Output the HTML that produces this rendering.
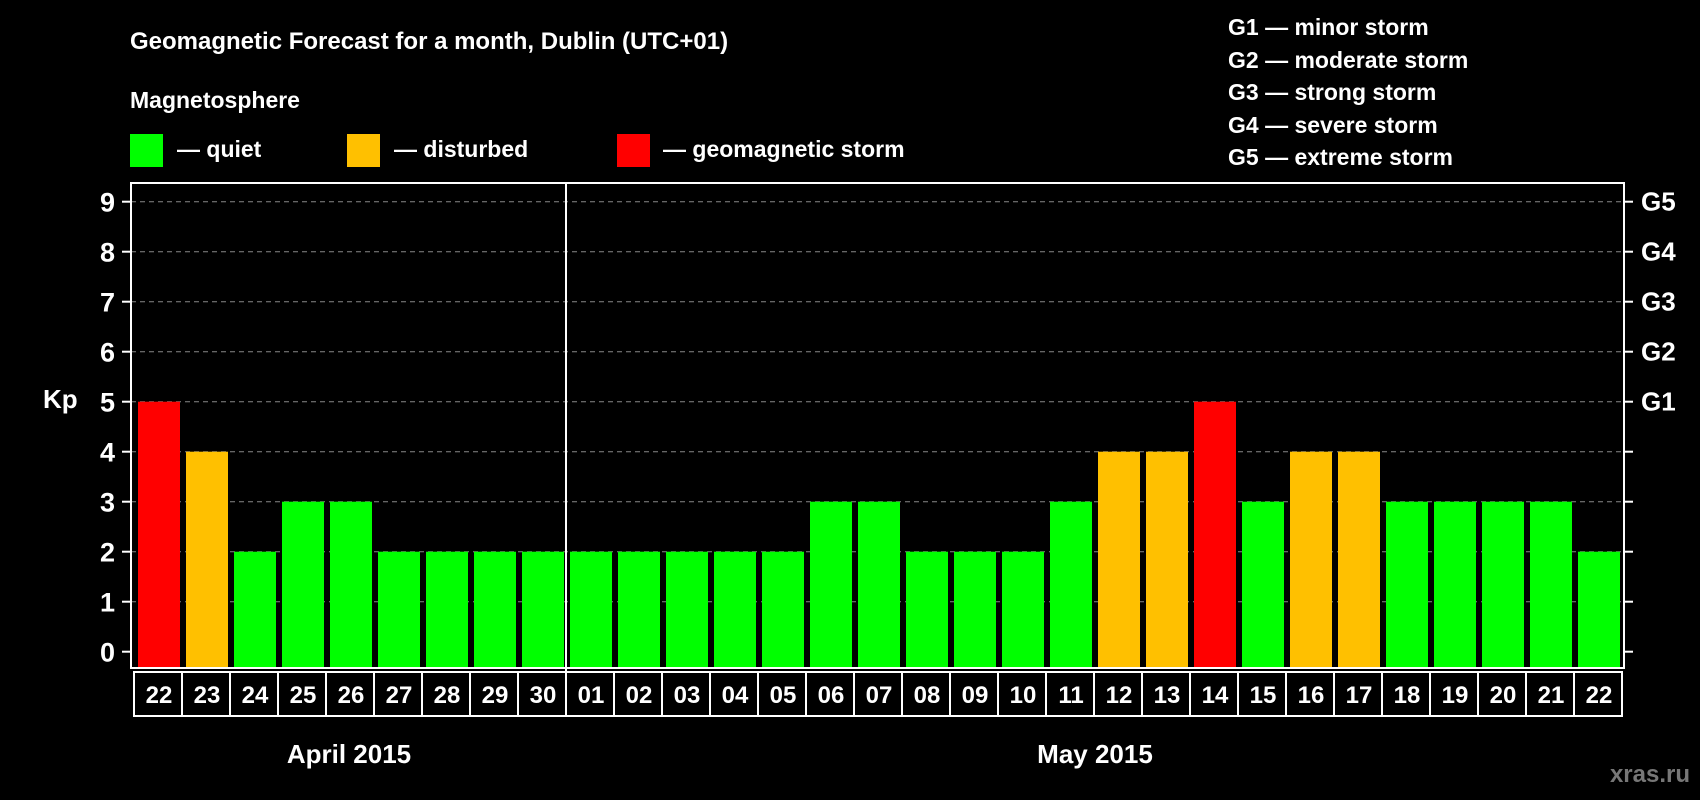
<!DOCTYPE html>
<html><head><meta charset="utf-8"><style>
html,body{margin:0;padding:0;background:#000;}
svg{display:block;font-family:"Liberation Sans",Arial,sans-serif;font-weight:bold;}
</style></head><body>
<svg id="chart" width="1700" height="800" viewBox="0 0 1700 800">
<rect width="1700" height="800" fill="#000"/>
<text x="130" y="49" fill="#fff" font-size="24">Geomagnetic Forecast for a month, Dublin (UTC+01)</text>
<text x="130" y="108" fill="#fff" font-size="23">Magnetosphere</text>
<g><rect x="130" y="134" width="33" height="33" fill="#00ff00"/><text x="177" y="157" fill="#fff" font-size="23">— quiet</text></g>
<g><rect x="347" y="134" width="33" height="33" fill="#ffc000"/><text x="394" y="157" fill="#fff" font-size="23">— disturbed</text></g>
<g><rect x="617" y="134" width="33" height="33" fill="#ff0000"/><text x="663" y="157" fill="#fff" font-size="23">— geomagnetic storm</text></g>
<g fill="#fff" font-size="23">
<text x="1228" y="35">G1 — minor storm</text>
<text x="1228" y="68">G2 — moderate storm</text>
<text x="1228" y="100">G3 — strong storm</text>
<text x="1228" y="133">G4 — severe storm</text>
<text x="1228" y="165">G5 — extreme storm</text>
</g>
<text x="43" y="408" fill="#fff" font-size="26">Kp</text>
<g id="plot"></g>
<text x="349" y="763" fill="#fff" font-size="26" text-anchor="middle">April 2015</text>
<text x="1095" y="763" fill="#fff" font-size="26" text-anchor="middle">May 2015</text>
<text x="1690" y="782" fill="#777" font-size="24" text-anchor="end">xras.ru</text>
</svg>
<script>
const days = ["22","23","24","25","26","27","28","29","30","01","02","03","04","05","06","07","08","09","10","11","12","13","14","15","16","17","18","19","20","21","22"];
const kp = [5,4,2,3,3,2,2,2,2,2,2,2,2,2,3,3,2,2,2,3,4,4,5,3,4,4,3,3,3,3,2];
const yTicks = [0,1,2,3,4,5,6,7,8,9];
const gLabels = ["G1","G2","G3","G4","G5"];
const gLevels = [5,6,7,8,9];
const NS="http://www.w3.org/2000/svg";
const plot=document.getElementById('plot');
const L=131,R=1624,T=183,B=668,x0=138,pitch=48,bw=42;
function y(v){return 651.7-v*50;}
function xb(i){return x0+i*pitch;}
function mk(t,a){const e=document.createElementNS(NS,t);for(const k in a)e.setAttribute(k,a[k]);plot.appendChild(e);return e;}
yTicks.forEach(v=>{
  if(v>0){const g=mk('line',{x1:L,x2:R,y1:y(v),y2:y(v),stroke:'#888','stroke-dasharray':'5,4','stroke-width':1});
  
  }
  const t1=mk('line',{x1:L-9,x2:L,y1:y(v),y2:y(v),stroke:'#fff','stroke-width':2});
  
  
  const t2=mk('line',{x1:R,x2:R+9,y1:y(v),y2:y(v),stroke:'#fff','stroke-width':2});
  
  
  const lb=mk('text',{x:115,y:y(v)+10,fill:'#fff','font-size':27,'text-anchor':'end'});lb.textContent=v;
  
  
});
gLevels.forEach((v,i)=>{
  const lb=mk('text',{x:1641,y:y(v)+9,fill:'#fff','font-size':26});lb.textContent=gLabels[i];
  
  
});
kp.forEach((v,i)=>{
  const c=v>=5?'#ff0000':(v>=4?'#ffc000':'#00ff00');
  const r=mk('rect',{x:xb(i),y:y(v),width:bw,height:B-y(v),fill:c});
  
  
  const cell=mk('rect',{x:xb(i)-4,y:672,width:pitch,height:44,fill:'none',stroke:'#fff','stroke-width':2});
  
  
  const t=mk('text',{x:xb(i)+bw/2,y:703,fill:'#fff','font-size':24,'text-anchor':'middle'});t.textContent=days[i];
  
  
});
const fr=mk('rect',{x:L,y:T,width:R-L,height:B-T,fill:'none',stroke:'#fff','stroke-width':2});


const sx=xb(days.indexOf("01"))-4;
const sep=mk('line',{x1:sx,x2:sx,y1:T,y2:716,stroke:'#fff','stroke-width':2});


</script>
</body></html>
